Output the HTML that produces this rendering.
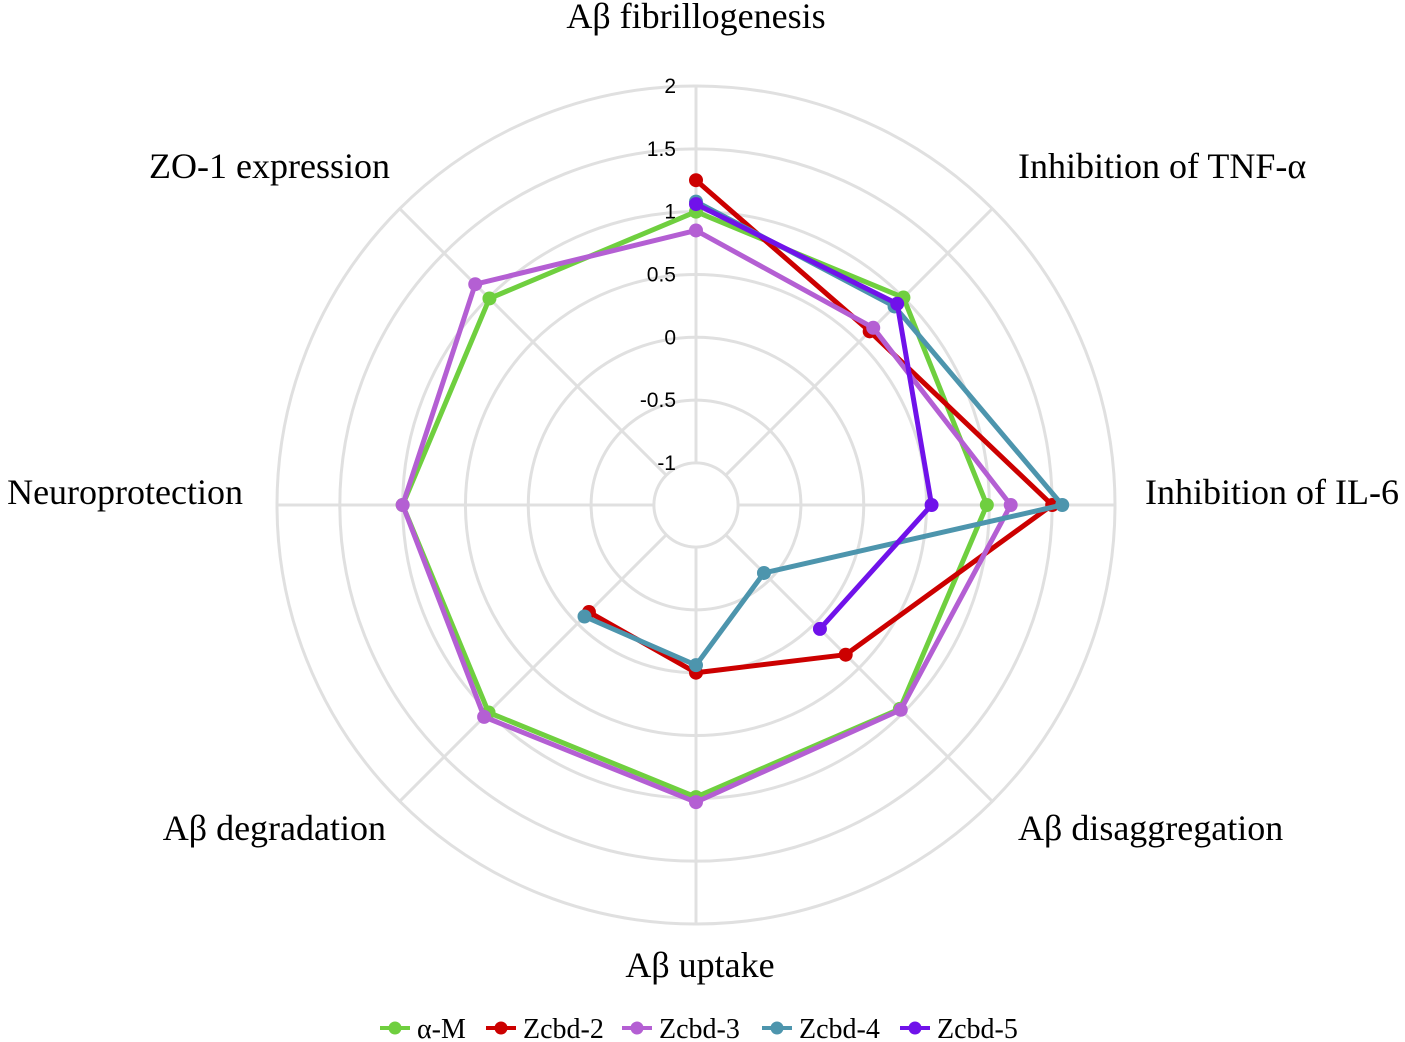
<!DOCTYPE html>
<html><head><meta charset="utf-8"><style>
html,body{margin:0;padding:0;background:#fff}
svg{display:block}
.lbl{font-family:"Liberation Serif",serif;font-size:36px;fill:#000}
.tick{font-family:"Liberation Sans",sans-serif;font-size:21px;fill:#000}
.leg{font-family:"Liberation Serif",serif;font-size:28px;fill:#000}
</style></head><body>
<svg id="chart" width="1405" height="1042" xmlns="http://www.w3.org/2000/svg"></svg>
<script>
const categories=["Aβ fibrillogenesis","Inhibition of TNF-α","Inhibition of IL-6","Aβ disaggregation","Aβ uptake","Aβ degradation","Neuroprotection","ZO-1 expression"];
const tickValues=[-1,-0.5,0,0.5,1,1.5,2];
const tickLabels=["-1","-0.5","0","0.5","1","1.5","2"];
const seriesNames=["α-M","Zcbd-2","Zcbd-3","Zcbd-4","Zcbd-5"];
const seriesColors=["#6fcf3f","#cc0000","#b45fd3","#4d95ad","#7012ea"];
const valsAM=[1.0,1.0,0.98,0.96,0.99,1.0,1.0,0.99];
const valsZ2=[1.25,0.62,1.5,0.35,0.0,-0.13,null,null];
const valsZ3=[0.85,0.66,1.17,0.97,1.03,1.05,1.0,1.15];
const valsZ4=[1.08,0.9,1.58,-0.57,-0.06,-0.08,null,null];
const valsZ5=[1.06,0.93,0.54,0.06,null,null,null,null];
const allVals=[valsAM,valsZ2,valsZ3,valsZ4,valsZ5];

const NS="http://www.w3.org/2000/svg";
const svg=document.getElementById('chart');
const cx=696,cy=505,rMin=-1.335,rMax=2,R=419;
function rad(v){return (v-rMin)/(rMax-rMin)*R;}
function pt(i,v){const a=i*2*Math.PI/categories.length;const r=rad(v);return [cx+r*Math.sin(a),cy-r*Math.cos(a)];}
function mk(tag,attrs){const e=document.createElementNS(NS,tag);for(const k in attrs)e.setAttribute(k,attrs[k]);svg.appendChild(e);return e;}

tickValues.forEach((t,i)=>{
  const c=mk('circle',{cx:cx,cy:cy,r:rad(t),fill:'none',stroke:'#e0e0e0','stroke-width':3});
  
  
});
categories.forEach((c,i)=>{
  const [x,y]=pt(i,rMax);
  const [x0,y0]=pt(i,tickValues[0]);
  const l=mk('line',{x1:x0,y1:y0,x2:x,y2:y,stroke:'#e0e0e0','stroke-width':3});
  
  
});
tickValues.forEach((t,i)=>{
  const e=mk('text',{x:cx-20,y:cy-rad(t)+7,'text-anchor':'end',class:'tick'});
  e.textContent=tickLabels[i];
  
  
});
const labelPos=[[696,28,'middle'],[1018,178,'start'],[1145,504,'start'],[1018,840,'start'],[700,977,'middle'],[386,840,'end'],[243,504,'end'],[390,178,'end']];
categories.forEach((c,i)=>{
  const p=labelPos[i];
  const e=mk('text',{x:p[0],y:p[1],'text-anchor':p[2],class:'lbl'});
  e.textContent=c;
  
  
});
allVals.forEach((vals,s)=>{
  let seg=[];const segs=[];
  vals.forEach((v,i)=>{if(v===null){if(seg.length)segs.push(seg);seg=[];}else seg.push(pt(i,v));});
  if(seg.length)segs.push(seg);
  const closed=vals.every(v=>v!==null);
  segs.forEach(sg=>{
    const pts=sg.map(p=>p.join(',')).join(' ');
    const e=mk(closed?'polygon':'polyline',{points:pts,fill:'none',stroke:seriesColors[s],'stroke-width':5,'stroke-linejoin':'round'});
    
    
  });
  vals.forEach((v,i)=>{
    if(v===null)return;
    const [x,y]=pt(i,v);
    const d=mk('circle',{cx:x,cy:y,r:7,fill:seriesColors[s]});
    
    
  });
});
const legX=[380,486,622,762,900];
seriesNames.forEach((n,s)=>{
  const x=legX[s],y=1028;
  const l=mk('line',{x1:x,y1:y,x2:x+30,y2:y,stroke:seriesColors[s],'stroke-width':4});
  
  
  const c=mk('circle',{cx:x+15,cy:y,r:6.5,fill:seriesColors[s]});
  
  
  const t=mk('text',{x:x+37,y:y+10,class:'leg'});
  t.textContent=n;
  
  
});
</script>
</body></html>
